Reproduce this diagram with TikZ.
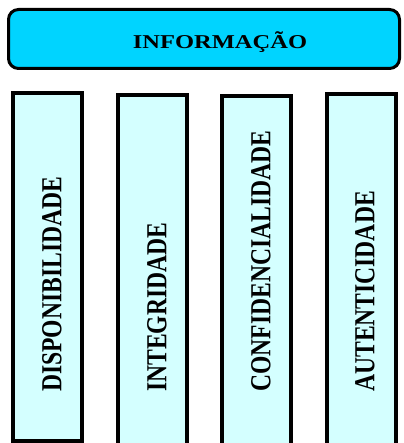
\documentclass[tikz,border=0pt]{standalone}
\usepackage{fontspec}
\setmainfont{Liberation Serif}
\usepackage{tikz}
\usetikzlibrary{positioning}

\definecolor{infoCyan}{HTML}{00D4FF}
\definecolor{pillarCyan}{HTML}{D4FFFF}

\begin{document}
\begin{tikzpicture}[
      x=1pt, y=1pt,
      font=\bfseries,
      topBox/.style    = {rectangle, draw, line width=3pt, rounded corners=10pt,
        fill=infoCyan, minimum width=391pt, minimum height=59pt,
      inner sep=0pt, font=\fontsize{19.6}{20}\bfseries,
      text height=24pt, text depth=4pt},
      pillar/.style    = {rectangle, draw, line width=4pt, fill=pillarCyan,
      minimum width=69pt, inner sep=0pt},
      pillarText/.style = {rotate=90, anchor=west, inner sep=0pt,
      font=\fontsize{23.6}{24}\bfseries}
    ]

    % ---------------- frame ----------------
    \clip (0,0) rectangle (403,443);

    % ---------------- top block ----------------
    \node[topBox] (info) at (204,404) {\hspace*{32pt}\scalebox{1.25}[1]{INFORMAÇÃO}};

    % ---------------- pillars ----------------
    \node[pillar, minimum height=348pt] (dispo) at (47,176)  {};
    \node[pillar, minimum height=385pt] (integ) at (152.5,155.5) {};
    \node[pillar, minimum height=384pt] (confi) at (256,155) {};
    \node[pillar, minimum height=386pt] (auten) at (361,156) {};

    % pillar labels
    \node[pillarText] (dispoText) at (52,51)  {\scalebox{1}[1.23]{DISPONIBILIDADE}};
    \node[pillarText] (integText) at (157,51) {\scalebox{1}[1.23]{INTEGRIDADE}};
    \node[pillarText] (confiText) at (261,51) {\scalebox{1}[1.23]{CONFIDENCIALIDADE}};
    \node[pillarText] (autenText) at (365,51) {\scalebox{1}[1.23]{AUTENTICIDADE}};

  \end{tikzpicture}
\end{document}
